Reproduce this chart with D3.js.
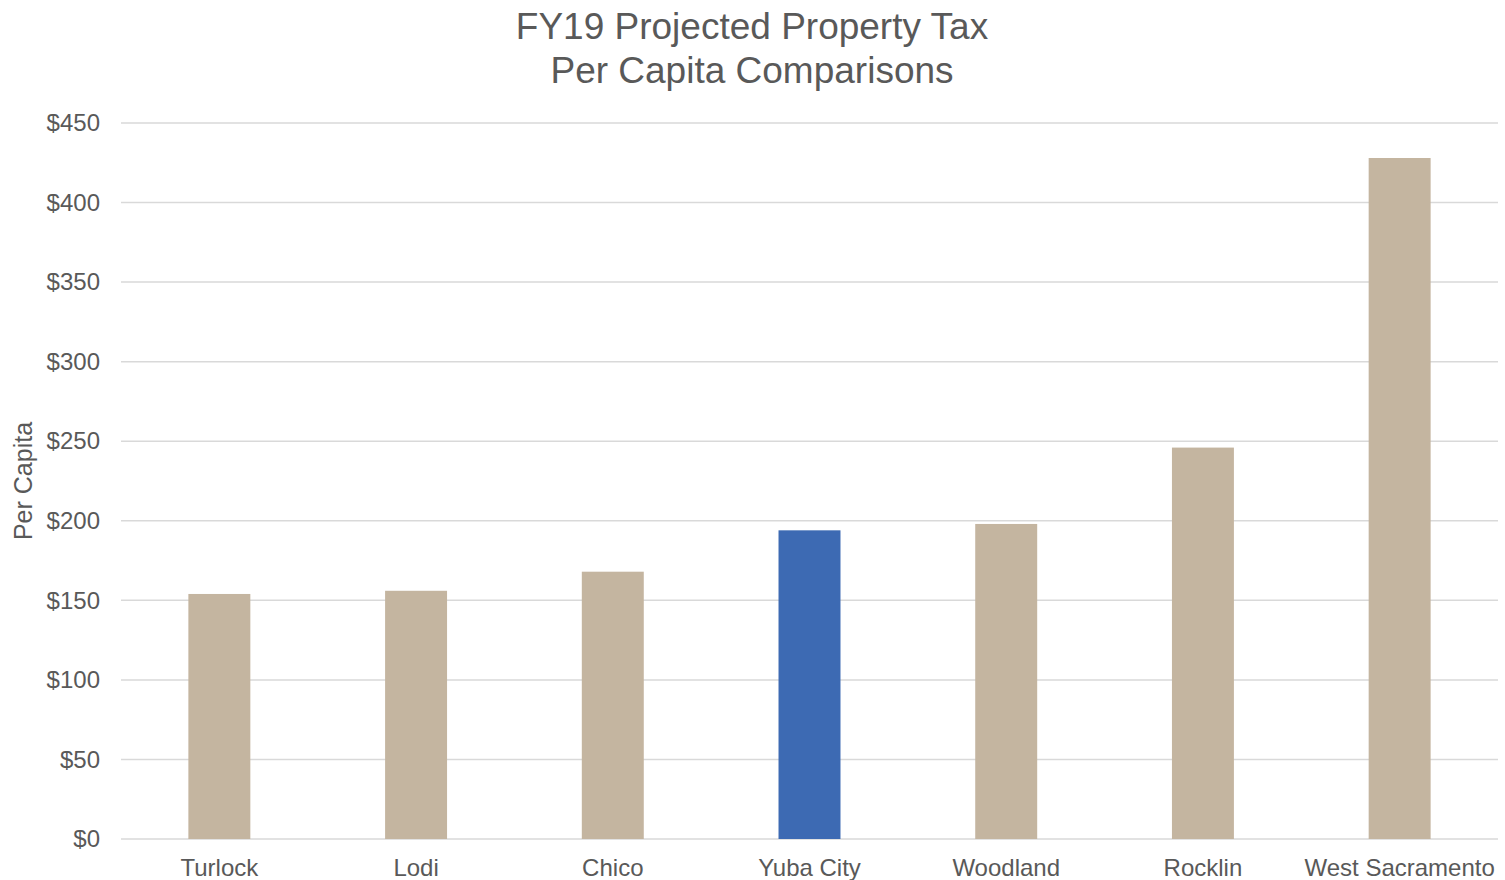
<!DOCTYPE html>
<html><head><meta charset="utf-8">
<script src="https://cdn.jsdelivr.net/npm/d3@7"></script>
<style>body{margin:0;background:#fff}text{font-family:"Liberation Sans",Arial,sans-serif}</style>
</head><body><svg id="c" width="1505" height="880"></svg>
<script>
const categories = ["Turlock","Lodi","Chico","Yuba City","Woodland","Rocklin","West Sacramento"];
const values = [154, 156, 168, 194, 198, 246, 428];
const highlight = "Yuba City";
const yTicks = [0,50,100,150,200,250,300,350,400,450];
const titleLines = ["FY19 Projected Property Tax","Per Capita Comparisons"];

(function(){
const svg = d3.select("#c");
const mLeft = 121, mRight = 1498, mTop = 123, mBottom = 839;
const x = d3.scaleBand().domain(categories).range([mLeft, mRight]).paddingInner(0.685).paddingOuter(0.3425);
const y = d3.scaleLinear().domain([0,450]).range([mBottom, mTop]);

// gridlines
svg.append("g").selectAll("line").data(yTicks).join("line")
  .attr("x1", mLeft).attr("x2", mRight)
  .attr("y1", d=>y(d)).attr("y2", d=>y(d))
  .attr("stroke", "#d9d9d9").attr("stroke-width", 1.5);

// y axis labels
const ya = svg.append("g").attr("transform", `translate(${mLeft},0)`)
  .call(d3.axisLeft(y).tickValues(yTicks).tickFormat(d=>"$"+d).tickSize(0).tickPadding(21));
ya.select(".domain").remove();
ya.selectAll("text").attr("font-size", 24).attr("fill", "#595959");

// bars
svg.append("g").selectAll("rect").data(categories).join("rect")
  .attr("x", d=>x(d)).attr("width", x.bandwidth())
  .attr("y", (d,i)=>y(values[i])).attr("height", (d,i)=>y(0)-y(values[i]))
  .attr("fill", d=> d===highlight ? "#3d6ab3" : "#c4b5a0");

// x axis labels
const xa = svg.append("g").attr("transform", `translate(0,${mBottom})`)
  .call(d3.axisBottom(x).tickSize(0).tickPadding(20));
xa.select(".domain").remove();
xa.selectAll("text").attr("font-size", 24).attr("fill", "#595959");

// title
svg.append("g").selectAll("text").data(titleLines).join("text")
  .attr("x", 752).attr("y", (d,i)=>39 + i*44)
  .attr("text-anchor","middle").attr("font-size", 37).attr("fill","#595959")
  .text(d=>d);

// y title
svg.append("text").attr("transform","translate(32,481) rotate(-90)")
  .attr("text-anchor","middle").attr("font-size",25).attr("fill","#595959").text("Per Capita");
})();
</script></body></html>
